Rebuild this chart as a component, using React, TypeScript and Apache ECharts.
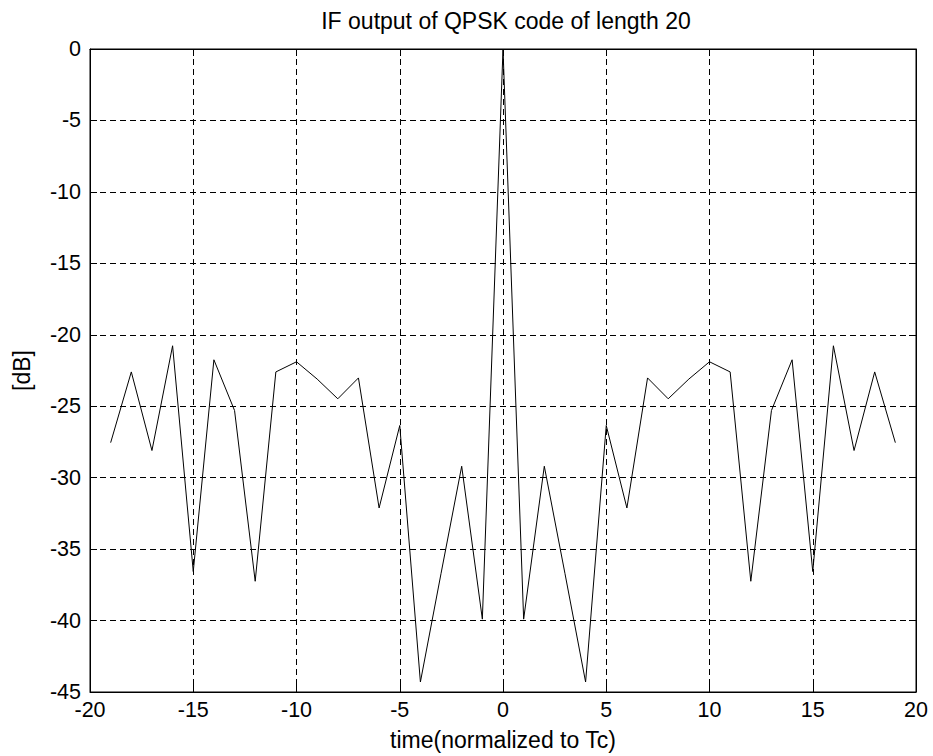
import React, { useEffect, useRef } from "react";
import * as echarts from "echarts";

const times: number[] = [
  -19, -18, -17, -16, -15, -14, -13, -12, -11, -10, -9, -8, -7, -6, -5, -4, -3, -2, -1,
  0, 1, 2, 3, 4, 5, 6, 7, 8, 9, 10, 11, 12, 13, 14, 15, 16, 17, 18, 19,
];
const levelsDb: number[] = [
  -27.55, -22.6, -28.1, -20.77, -36.57, -21.75, -25.3, -37.25, -22.6, -21.89, -23.1, -24.48, -23.02, -32.12, -26.35, -44.3, -36.7, -29.2, -39.9,
  0, -39.9, -29.2, -36.7, -44.3, -26.35, -32.12, -23.02, -24.48, -23.1, -21.89, -22.6, -37.25, -25.3, -21.75, -36.57, -20.77, -28.1, -22.6, -27.55,
];
const titleText = "IF output of QPSK code of length 20";
const xLabel = "time(normalized to Tc)";
const yLabel = "[dB]";

const FONT = "Arial, 'Liberation Sans', sans-serif";

export default function App() {
  const ref = useRef<HTMLDivElement>(null);
  useEffect(() => {
    if (!ref.current) return;
    const chart = echarts.init(ref.current, undefined, { renderer: "svg" });
    const data = times.map((t, i) => [t, levelsDb[i]]);
    const gridLine = { show: true, lineStyle: { color: "#000", width: 1, type: [6, 4] as any } };
    const axisLine = { show: true, onZero: false, lineStyle: { color: "#000", width: 1 } };
    const tick = { show: true, inside: true, length: 7, lineStyle: { color: "#000" } };
    const label = { color: "#000", fontSize: 21.5, fontFamily: FONT };
    const nameStyle = { color: "#000", fontSize: 23, fontFamily: FONT };
    chart.setOption({
      animation: false,
      backgroundColor: "#fff",
      title: {
        text: titleText,
        left: 501,
        top: 4,
        textAlign: "center",
        textStyle: { ...nameStyle, fontWeight: "normal" },
      },
      grid: { left: 90, right: 17, top: 49, bottom: 63, show: true, borderColor: "#000", borderWidth: 1 },
      xAxis: [
        {
          type: "value",
          min: -20,
          max: 20,
          interval: 5,
          position: "bottom",
          axisLine,
          axisTick: tick,
          axisLabel: { ...label, margin: 7 },
          splitLine: gridLine,
          name: xLabel,
          nameLocation: "middle",
          nameGap: 36,
          nameTextStyle: nameStyle,
        },
        {
          type: "value",
          min: -20,
          max: 20,
          interval: 5,
          position: "top",
          axisLine,
          axisTick: tick,
          axisLabel: { show: false },
          splitLine: { show: false },
        },
      ],
      yAxis: [
        {
          type: "value",
          min: -45,
          max: 0,
          interval: 5,
          position: "left",
          axisLine,
          axisTick: tick,
          axisLabel: { ...label, margin: 9 },
          splitLine: gridLine,
          name: yLabel,
          nameLocation: "middle",
          nameGap: 57,
          nameTextStyle: nameStyle,
        },
        {
          type: "value",
          min: -45,
          max: 0,
          interval: 5,
          position: "right",
          axisLine,
          axisTick: tick,
          axisLabel: { show: false },
          splitLine: { show: false },
        },
      ],
      series: [
        {
          type: "line",
          data,
          xAxisIndex: 0,
          yAxisIndex: 0,
          showSymbol: false,
          symbol: "none",
          lineStyle: { color: "#000", width: 1 },
          z: 5,
        },
      ],
    });
    return () => chart.dispose();
  }, []);
  return (
    <div
      ref={ref}
      style={{ position: "absolute", left: 0, top: 0, width: 933, height: 756, background: "#fff" }}
    />
  );
}
